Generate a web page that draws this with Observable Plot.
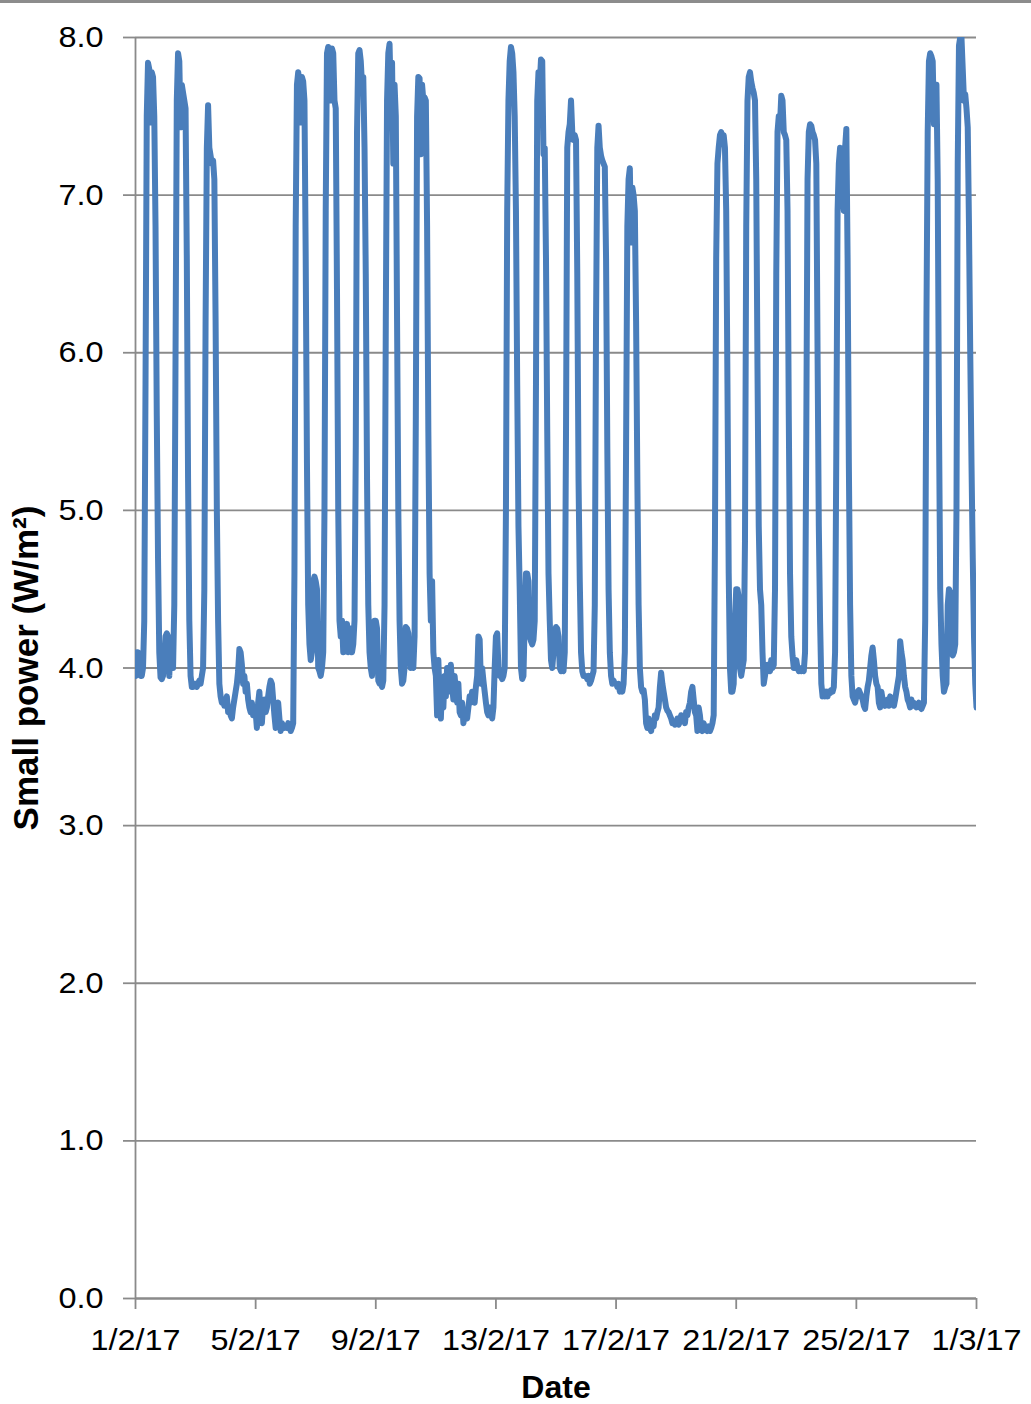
<!DOCTYPE html>
<html>
<head>
<meta charset="utf-8">
<script src="https://cdn.jsdelivr.net/npm/d3@7"></script>
<script src="https://cdn.jsdelivr.net/npm/@observablehq/plot@0.6"></script>
<style>
  html, body { margin: 0; padding: 0; background: #fff; }
  #wrap { position: relative; width: 1031px; height: 1404px; overflow: hidden; }
  #topbar { position: absolute; left: 0; top: 0; width: 1031px; height: 3px; background: #8c8c8c; }
</style>
</head>
<body>
<div id="wrap"><div id="topbar"></div></div>
<script>
// Hourly small power readings (W/m²), one row of 24 values per day
const week1 = [ // 1–7 Feb 2017
  3.95,4.1,4.1,4.05,3.95,3.95,4.0,4.3,5.8,7.5,7.84,7.8,7.46,7.78,7.75,7.5,6.8,5.6,4.7,4.1,3.94,3.93,3.95,4.05,
  4.2,4.22,4.2,3.95,4.18,4.0,4.0,4.4,6.0,7.6,7.9,7.85,7.43,7.7,7.65,7.6,7.55,6.6,5.2,4.3,3.95,3.88,3.88,3.9,
  3.9,3.88,3.9,3.92,3.9,3.95,4.0,4.5,6.2,7.3,7.57,7.3,7.25,7.2,7.22,7.1,6.2,5.0,4.3,3.9,3.82,3.78,3.8,3.76,
  3.78,3.82,3.72,3.75,3.7,3.68,3.75,3.8,3.85,3.9,3.98,4.12,4.1,4.02,3.9,3.95,3.85,3.9,3.8,3.75,3.72,3.78,3.7,3.74,
  3.72,3.62,3.78,3.85,3.7,3.65,3.78,3.8,3.72,3.75,3.82,3.88,3.92,3.9,3.8,3.7,3.62,3.75,3.78,3.68,3.6,3.65,3.63,3.62,
  3.63,3.62,3.65,3.64,3.6,3.62,3.65,4.6,6.8,7.7,7.78,7.72,7.46,7.75,7.72,7.6,6.6,5.3,4.4,4.15,4.05,4.1,4.55,4.58,
  4.55,4.5,4.0,3.98,3.95,4.0,4.1,5.0,6.9,7.9,7.94,7.92,7.6,7.93,7.9,7.6,7.55,6.4,5.0,4.3,4.2,4.3,4.1,4.25
];
const week2 = [ // 8–14 Feb 2017
  4.2,4.28,4.1,4.15,4.25,4.1,4.15,4.3,5.4,7.4,7.9,7.92,7.85,7.7,7.75,7.3,6.5,5.2,4.4,4.1,4.0,3.95,4.1,4.3,
  4.3,4.25,3.92,3.9,3.9,3.88,3.92,4.4,6.2,7.6,7.9,7.96,7.6,7.84,7.2,7.7,7.5,6.2,5.0,4.3,4.0,3.9,3.92,4.0,
  4.26,4.25,4.22,4.1,4.0,4.02,4.0,4.2,5.6,7.5,7.75,7.74,7.26,7.7,7.6,7.62,7.6,6.8,5.5,4.6,4.3,4.55,4.1,4.0,
  3.95,3.7,4.05,3.8,3.68,3.9,3.75,3.95,3.82,4.0,3.85,3.95,4.02,3.88,3.8,3.95,3.85,3.78,3.9,3.72,3.7,3.78,3.65,3.7,
  3.72,3.68,3.75,3.82,3.78,3.85,3.8,3.78,3.88,3.95,4.2,4.18,3.9,4.0,3.92,3.85,3.78,3.72,3.7,3.75,3.72,3.68,3.75,4.0,
  4.2,4.22,4.0,3.95,3.95,3.93,3.95,4.0,5.0,6.9,7.6,7.85,7.94,7.9,7.78,7.5,6.9,5.8,4.9,4.5,4.0,3.93,3.95,4.3,
  4.6,4.6,4.55,4.2,4.17,4.15,4.18,4.3,5.8,7.6,7.78,7.7,7.86,7.85,7.26,7.3,6.6,5.5,4.6,4.3,4.05,4.0,4.1,4.2
];
const week3 = [ // 15–21 Feb 2017
  4.26,4.25,4.2,4.0,3.98,4.0,3.98,4.1,5.5,7.3,7.4,7.45,7.6,7.4,7.35,7.38,7.35,6.5,5.2,4.55,4.1,3.98,3.95,3.95,
  3.95,3.93,3.95,3.9,3.92,3.95,3.98,4.4,6.2,7.3,7.44,7.3,7.25,7.22,7.2,7.18,6.6,5.4,4.5,4.1,3.95,3.9,3.92,3.9,
  3.9,3.88,3.9,3.85,3.88,3.85,3.9,4.1,5.4,6.8,7.1,7.17,6.7,7.05,7.0,6.9,6.2,5.2,4.4,4.0,3.88,3.85,3.86,3.8,
  3.65,3.62,3.68,3.62,3.6,3.65,3.63,3.7,3.68,3.72,3.75,3.88,3.97,3.9,3.85,3.8,3.75,3.73,3.72,3.7,3.68,3.65,3.66,3.64,
  3.65,3.68,3.64,3.66,3.7,3.67,3.68,3.65,3.72,3.7,3.75,3.78,3.85,3.88,3.8,3.72,3.7,3.6,3.75,3.7,3.62,3.6,3.65,3.62,
  3.62,3.6,3.63,3.6,3.62,3.65,3.7,4.8,6.6,7.2,7.3,7.38,7.4,7.35,7.38,7.3,6.9,5.8,4.6,4.0,3.85,3.85,3.9,4.3,
  4.5,4.5,4.45,4.0,3.95,4.0,4.05,4.8,6.8,7.6,7.75,7.78,7.72,7.68,7.65,7.6,7.1,5.9,4.9,4.5,4.4,4.1,3.9,3.95
];
const week4 = [ // 22–28 Feb 2017
  4.0,4.02,4.0,3.98,4.05,4.0,4.02,4.5,6.5,7.4,7.5,7.45,7.63,7.6,7.4,7.38,7.35,6.9,5.6,4.6,4.2,4.08,4.0,4.0,
  4.05,4.0,3.98,4.0,3.98,4.0,3.98,4.1,5.5,7.1,7.4,7.45,7.44,7.4,7.38,7.35,7.2,6.0,4.9,4.3,3.9,3.82,3.85,3.82,
  3.85,3.82,3.85,3.84,3.86,3.85,3.88,4.1,5.4,6.9,7.2,7.3,7.25,7.0,6.9,7.3,7.42,6.6,5.3,4.4,3.95,3.82,3.8,3.78,
  3.82,3.85,3.86,3.84,3.82,3.8,3.76,3.74,3.82,3.88,3.92,4.0,4.08,4.13,4.05,3.95,3.9,3.88,3.78,3.75,3.85,3.8,3.78,3.76,
  3.78,3.8,3.76,3.82,3.78,3.8,3.76,3.8,3.85,3.9,3.95,4.17,4.1,4.05,3.95,3.88,3.85,3.8,3.78,3.75,3.8,3.76,3.78,3.76,
  3.75,3.76,3.78,3.75,3.74,3.76,3.78,4.3,6.2,7.4,7.85,7.9,7.88,7.85,7.45,7.6,7.7,7.1,5.6,4.5,4.15,3.95,3.85,3.88,
  3.9,4.4,4.5,4.48,4.1,4.08,4.1,4.15,5.0,7.2,7.95,8.0,8.0,7.8,7.6,7.64,7.55,7.43,6.8,6.0,5.3,4.7,4.2,3.9
];
const finalValue = 3.75; // 1 Mar 2017 00:00

const xTickDays = [1, 5, 9, 13, 17, 21, 25, 29]; // days counted from 1 Feb
const xTickLabels = ["1/2/17", "5/2/17", "9/2/17", "13/2/17", "17/2/17", "21/2/17", "25/2/17", "1/3/17"];
const yTicks = [0, 1, 2, 3, 4, 5, 6, 7, 8];

// build table
const values = [...week1, ...week2, ...week3, ...week4, finalValue];
const t0 = Date.UTC(2017, 1, 1);
const series = values.map((v, i) => ({date: new Date(t0 + i * 3600e3), value: v}));
const xTicks = xTickDays.map(d => new Date(Date.UTC(2017, 1, d)));
const labelByTime = new Map(xTicks.map((d, i) => [+d, xTickLabels[i]]));

const gray = "#8a8a8a";
const font = "'Liberation Sans', Arial, Helvetica, sans-serif";

const chart = Plot.plot({
  width: 1031,
  height: 1404,
  marginTop: 37,
  marginRight: 55,
  marginBottom: 106,
  marginLeft: 135,
  style: {fontFamily: font, fontSize: "30px", color: "#000", background: "transparent", overflow: "visible"},
  x: {type: "utc", domain: [xTicks[0], xTicks[xTicks.length - 1]]},
  y: {domain: [0, 8]},
  marks: [
    Plot.gridY(yTicks, {stroke: gray, strokeOpacity: 1, strokeWidth: 1.8}),
    Plot.axisY(yTicks, {tickSize: 12, tickPadding: 20, tickFormat: d3.format(".1f"), stroke: gray, strokeWidth: 1.8, strokeOpacity: 1, fontSize: 30, label: null}),
    Plot.axisY([], {label: "Small power (W/m²)", labelAnchor: "center", labelArrow: "none", labelOffset: 122, fontSize: 35, fontWeight: "bold", tickSize: 0}),
    Plot.axisX(xTicks, {tickSize: 11, tickPadding: 19, tickFormat: d => labelByTime.get(+d), stroke: gray, strokeWidth: 1.8, strokeOpacity: 1, fontSize: 30, label: null}),
    Plot.axisX([], {label: "Date", labelAnchor: "center", labelArrow: "none", labelOffset: 99, fontSize: 32, fontWeight: "bold", tickSize: 0}),
    Plot.ruleX([xTicks[0]], {stroke: gray, strokeWidth: 1.8}),
    Plot.ruleY([0], {stroke: gray, strokeWidth: 1.8}),
    Plot.lineY(series, {x: "date", y: "value", stroke: "#4a7ebb", strokeWidth: 6, clip: true})
  ]
});

document.getElementById("wrap").appendChild(chart);

// the reference's tick labels are slightly wider than their height suggests
const stretch = 1.08;
chart.querySelectorAll('g[aria-label="x-axis tick label"] text, g[aria-label="y-axis tick label"] text').forEach(t => {
  const len = t.getComputedTextLength();
  t.setAttribute("textLength", (len * stretch).toFixed(1));
  t.setAttribute("lengthAdjust", "spacingAndGlyphs");
});
</script>
</body>
</html>
